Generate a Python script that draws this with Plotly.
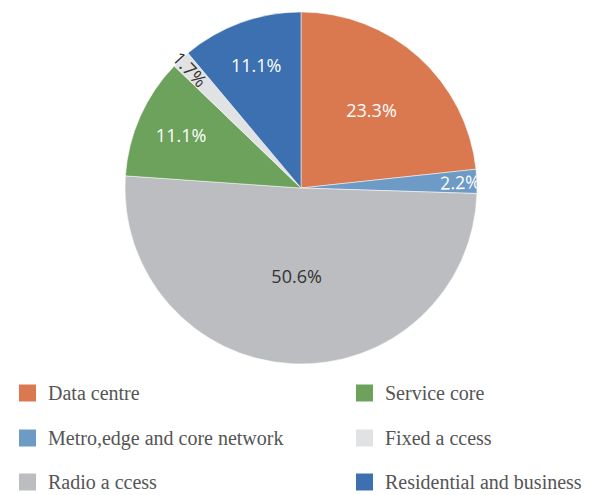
import plotly.graph_objects as go

labels = ["Data centre", "Metro,edge and core network", "Radio a ccess",
          "Service core", "Fixed a ccess", "Residential and business"]
values = [23.3, 2.2, 50.6, 11.1, 1.7, 11.1]
colors = ["#DA7850", "#6E9BC5", "#BCBDC1", "#6CA25B", "#E1E2E4", "#3D70B0"]
text_colors = ["white", "white", "#333333", "white", "#333333", "white"]

# legend layout (two columns, three rows) as in the reference
legend_order = [0, 3, 1, 4, 2, 5]

W, H = 589, 495
fig = go.Figure()
fig.add_trace(go.Pie(
    labels=labels, values=values, sort=False, direction="clockwise", rotation=0,
    marker=dict(colors=colors, line=dict(color="white", width=0.5)),
    texttemplate="%{value:.1f}%", textposition="inside",
    insidetextfont=dict(family="Open Sans", size=18, color=text_colors),
    domain=dict(x=[125 / W, 477 / W], y=[1 - 364 / H, 1 - 12 / H]),
    showlegend=False, hoverinfo="label+percent",
))

shapes, annotations = [], []
col_x = [19, 356]
row_y = [393, 438, 482]
for k, idx in enumerate(legend_order):
    r, c = divmod(k, 2)
    x0 = col_x[c]
    yc = row_y[r]
    shapes.append(dict(type="rect", xref="paper", yref="paper",
                       x0=x0 / W, x1=(x0 + 17) / W,
                       y0=1 - (yc + 8.5) / H, y1=1 - (yc - 8.5) / H,
                       fillcolor=colors[idx], line=dict(width=0)))
    annotations.append(dict(xref="paper", yref="paper", x=(x0 + 27) / W, y=1 - yc / H,
                            xanchor="left", yanchor="middle", showarrow=False,
                            text=labels[idx],
                            font=dict(family="Liberation Serif", size=20, color="#555555")))

fig.update_layout(width=W, height=H, margin=dict(l=0, r=0, t=0, b=0),
                  paper_bgcolor="white", plot_bgcolor="white",
                  uniformtext=dict(minsize=17, mode="show"),
                  shapes=shapes, annotations=annotations)
fig.write_html("out.html", config={"displayModeBar": False},
               post_script="document.body.style.margin='0';document.body.style.padding='0';")
